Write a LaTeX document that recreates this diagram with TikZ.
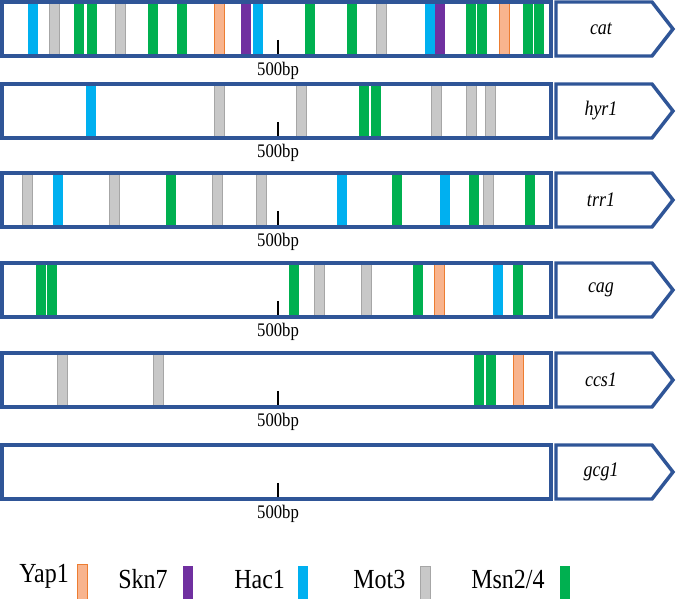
\documentclass[tikz,border=0pt]{standalone}
\usepackage{fontspec}
\setmainfont{Liberation Serif}
\definecolor{frameblue}{HTML}{2F5597}
\definecolor{yapfill}{HTML}{F8B48E}
\definecolor{yapedge}{HTML}{ED7D31}
\definecolor{sknpurple}{HTML}{7030A0}
\definecolor{hacblue}{HTML}{00B0F0}
\definecolor{motgray}{HTML}{C8C8C8}
\definecolor{motedge}{HTML}{A6A6A6}
\definecolor{msngreen}{HTML}{00B050}

\tikzset{
  promoter/.style={draw=frameblue, line width=2.6pt},
  genename/.style={font=\fontsize{13.5}{15}\selectfont\itshape},
  yap/.style={fill=yapfill, draw=yapedge, line width=0.6pt},
  skn/.style={fill=sknpurple},
  hac/.style={fill=hacblue},
  mot/.style={fill=motgray, draw=motedge, line width=0.6pt},
  msn/.style={fill=msngreen},
  legendtext/.style={anchor=base west, inner sep=0pt, font=\fontsize{18}{20}\selectfont}
}

% one binding site: style, centre x, row top
\newcommand{\motif}[3]{\path[#1] (#2-5,#3+1) rectangle (#2+5,#3+53);}
% text a bit taller, as in the figure
\newcommand{\tall}[1]{\scalebox{1}[1.15]{#1}}

\begin{document}
\begin{tikzpicture}[x=0.75pt, y=-0.75pt]
\useasboundingbox (0,0) rectangle (676,599);

% binding sites
\foreach \s/\x in {hac/33, mot/54, msn/79, msn/91.5, mot/120, msn/153, msn/182, yap/219,
    skn/246, hac/258, msn/310, msn/352, mot/381, hac/430, skn/440, msn/471, msn/482,
    yap/504, msn/528, msn/539}
  \motif{\s}{\x}{2};
\foreach \s/\x in {hac/91, mot/219, mot/301, msn/364, msn/376, mot/436, mot/471, mot/490}
  \motif{\s}{\x}{84};
\foreach \s/\x in {mot/27, hac/58, mot/114, msn/171, mot/217, mot/261, hac/342, msn/397,
    hac/445, msn/474, mot/488, msn/530}
  \motif{\s}{\x}{173};
\foreach \s/\x in {msn/41, msn/52, msn/294, mot/319, mot/366, msn/418, yap/439, hac/498,
    msn/518}
  \motif{\s}{\x}{263};
\foreach \s/\x in {mot/62, mot/158, msn/479, msn/491, yap/518}
  \motif{\s}{\x}{353};

% promoters, gene arrows and scale
\foreach \t/\g in {2/cat, 84/hyr1, 173/trr1, 263/cag, 353/ccs1, 445/gcg1} {
  \draw[promoter] (2,\t) rectangle (551,\t+54);
  \draw[promoter] (556,\t) -- (652,\t) -- (673,\t+27) -- (652,\t+54) -- (556,\t+54) -- cycle;
  \node[genename] (gene\g) at (601,\t+27) {\tall{\g}};
  \draw[line width=1.3pt] (278,\t+38) -- (278,\t+52);
  \node[font=\fontsize{12.5}{14}\selectfont] (scale\g) at (278,\t+69) {\tall{500bp}};
}

% legend
\node[legendtext] (keyyap) at (19,583) {\tall{Yap1}};
\motif{yap}{82}{563}
\node[legendtext] (keyskn) at (118,589) {\tall{Skn7}};
\motif{skn}{188}{565}
\node[legendtext] (keyhac) at (234,589) {\tall{Hac1}};
\motif{hac}{303}{565}
\node[legendtext] (keymot) at (353,589) {\tall{Mot3}};
\motif{mot}{425}{565}
\node[legendtext] (keymsn) at (471,589) {\tall{Msn2/4}};
\motif{msn}{565}{565}
\end{tikzpicture}
\end{document}
